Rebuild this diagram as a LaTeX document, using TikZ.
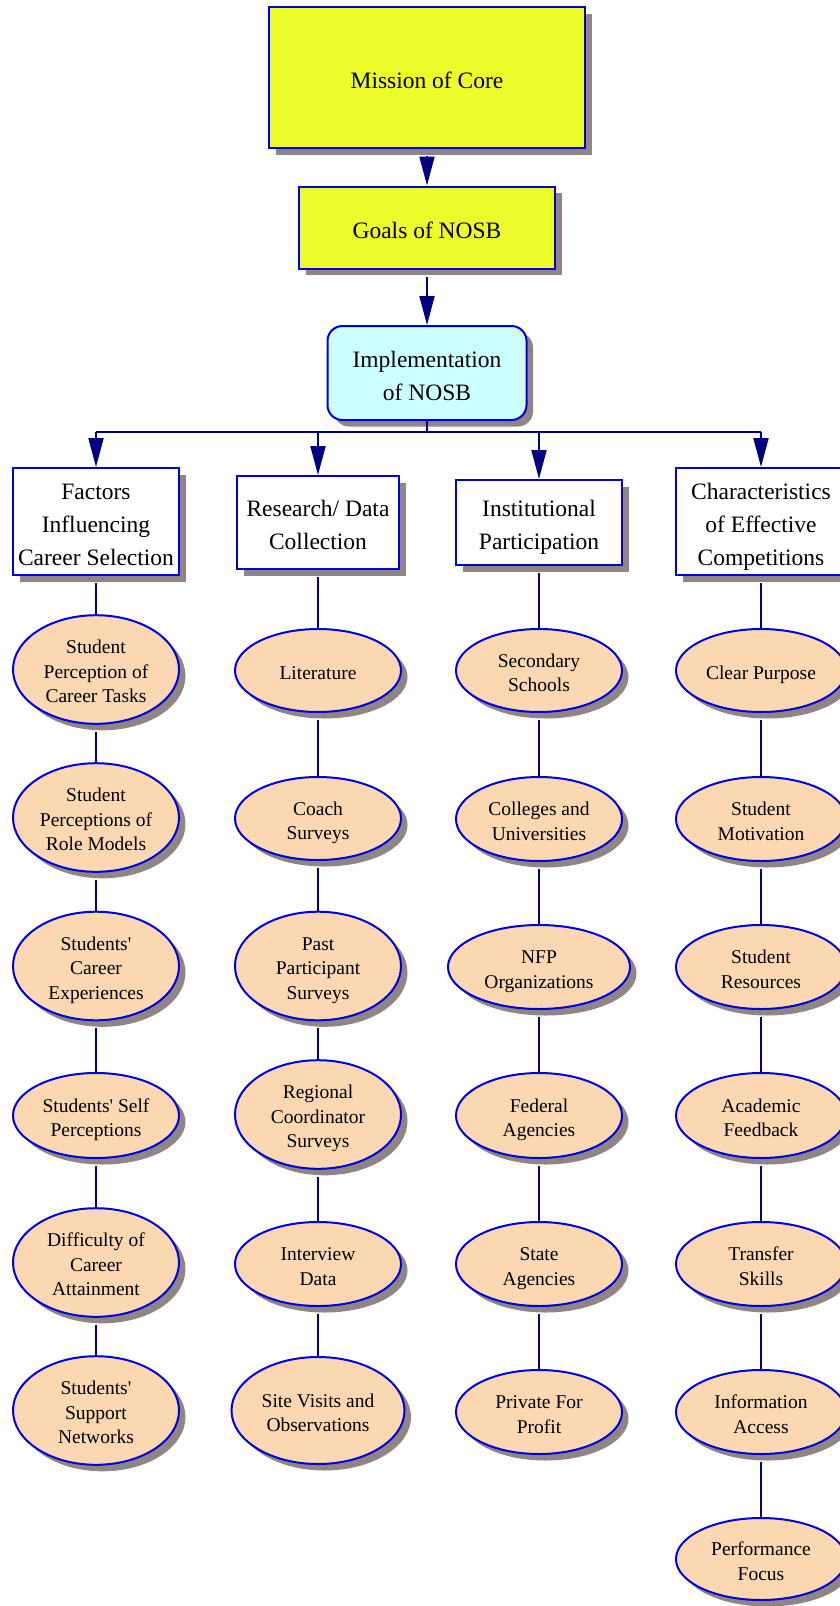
\documentclass[tikz,border=0pt]{standalone}
\usepackage{fontspec}
\setmainfont{Liberation Serif}
\usetikzlibrary{shapes.geometric,shadows,arrows.meta}
\definecolor{yel}{RGB}{236,252,42}
\definecolor{cyanf}{RGB}{204,255,255}
\definecolor{peach}{RGB}{252,216,178}
\definecolor{bord}{RGB}{0,0,220}
\definecolor{navyc}{RGB}{0,0,128}
\definecolor{shad}{RGB}{143,133,133}
% invisible struts that place the text a little below the node centre
\newcommand\sA{\rule{0pt}{1.17em}}
\newcommand\sZ{\rule[-0.255em]{0pt}{0.255em}}
\begin{document}
\begin{tikzpicture}[x=1pt,y=-1pt,
  shd/.style={drop shadow={shadow xshift=6.5pt,shadow yshift=-6.5pt,fill=shad,opacity=1}},
  bigfont/.style={font=\fontsize{23.5pt}{33pt}\selectfont},
  smallfont/.style={font=\fontsize{19.5pt}{24.5pt}\selectfont},
  topbox/.style={rectangle,draw=bord,line width=2pt,fill=yel,shd,inner sep=0pt,align=center,bigfont},
  implbox/.style={rectangle,rounded corners=15pt,draw=bord,line width=2pt,fill=cyanf,shd,inner sep=0pt,align=center,bigfont},
  catbox/.style={rectangle,draw=bord,line width=2pt,fill=white,shd,inner sep=0pt,align=center,bigfont},
  oval/.style={ellipse,draw=bord,line width=2pt,fill=peach,shd,inner sep=0pt,align=center,smallfont,minimum width=166pt},
  conn/.style={draw=navyc,line width=2pt},
  arr/.style={conn,-{Triangle[length=29pt,width=15pt]}}
]
\useasboundingbox (0,0) rectangle (840,1606);

% top chain
\node[topbox,minimum width=316pt,minimum height=141pt] (mission) at (427,77.5) {\sA Mission of Core\sZ};
\node[topbox,minimum width=256pt,minimum height=82pt] (goals) at (427,227.5) {\sA Goals of NOSB\sZ};
\node[implbox,minimum width=199pt,minimum height=94pt] (impl) at (427,373) {\sA Implementation\\of NOSB\sZ};

% category boxes
\node[catbox,minimum width=166pt,minimum height=107pt] (b1) at (96,521.5) {\sA Factors\\Influencing\\Career Selection\sZ};
\node[catbox,minimum width=162pt,minimum height=93pt] (b2) at (318,522.5) {\sA Research/ Data\\Collection\sZ};
\node[catbox,minimum width=166pt,minimum height=85pt] (b3) at (539,522.5) {\sA Institutional\\Participation\sZ};
\node[catbox,minimum width=170pt,minimum height=107pt] (b4) at (761,521.5) {\sA Characteristics\\of Effective\\Competitions\sZ};

% column 1
\node[oval,minimum height=107pt] (a1) at (96,669.5) {\sA Student\\Perception of\\Career Tasks\sZ};
\node[oval,minimum height=107pt] (a2) at (96,817.5) {\sA Student\\Perceptions of\\Role Models\sZ};
\node[oval,minimum height=106pt] (a3) at (96,966) {\sA Students\textquotesingle\\Career\\Experiences\sZ};
\node[oval,minimum height=85pt] (a4) at (96,1115.5) {\sA Students\textquotesingle{} Self\\Perceptions\sZ};
\node[oval,minimum height=107pt] (a5) at (96,1262.5) {\sA Difficulty of\\Career\\Attainment\sZ};
\node[oval,minimum height=107pt] (a6) at (96,1410.5) {\sA Students\textquotesingle\\Support\\Networks\sZ};

% column 2
\node[oval,minimum height=83pt] (r1) at (318,670.5) {\sA Literature\sZ};
\node[oval,minimum height=83pt] (r2) at (318,818.5) {\sA Coach\\Surveys\sZ};
\node[oval,minimum height=106pt] (r3) at (318,966) {\sA Past\\Participant\\Surveys\sZ};
\node[oval,minimum height=105pt] (r4) at (318,1114.5) {\sA Regional\\Coordinator\\Surveys\sZ};
\node[oval,minimum height=84pt] (r5) at (318,1264) {\sA Interview\\Data\sZ};
\node[oval,minimum height=107pt,minimum width=173pt] (r6) at (318,1410.5) {\sA Site Visits and\\Observations\sZ};

% column 3
\node[oval,minimum height=83pt] (i1) at (539,670.5) {\sA Secondary\\Schools\sZ};
\node[oval,minimum height=84pt] (i2) at (539,819) {\sA Colleges and\\Universities\sZ};
\node[oval,minimum height=84pt,minimum width=182pt] (i3) at (539,967) {\sA NFP\\Organizations\sZ};
\node[oval,minimum height=85pt] (i4) at (539,1115.5) {\sA Federal\\Agencies\sZ};
\node[oval,minimum height=84pt] (i5) at (539,1264) {\sA State\\Agencies\sZ};
\node[oval,minimum height=84pt] (i6) at (539,1412) {\sA Private For\\Profit\sZ};

% column 4
\node[oval,minimum height=83pt,minimum width=170pt] (c1) at (761,670.5) {\sA Clear Purpose\sZ};
\node[oval,minimum height=84pt,minimum width=170pt] (c2) at (761,819) {\sA Student\\Motivation\sZ};
\node[oval,minimum height=84pt,minimum width=170pt] (c3) at (761,967) {\sA Student\\Resources\sZ};
\node[oval,minimum height=85pt,minimum width=170pt] (c4) at (761,1115.5) {\sA Academic\\Feedback\sZ};
\node[oval,minimum height=84pt,minimum width=170pt] (c5) at (761,1264) {\sA Transfer\\Skills\sZ};
\node[oval,minimum height=84pt,minimum width=170pt] (c6) at (761,1412) {\sA Information\\Access\sZ};
\node[oval,minimum height=82pt,minimum width=170pt] (c7) at (761,1559) {\sA Performance\\Focus\sZ};

% top arrows
\draw[arr,shorten <=7pt] (mission) -- (goals);
\draw[arr,shorten <=7pt] (goals) -- (impl);

% bus
\coordinate (busL) at (96,432);
\coordinate (busR) at (761,432);
\draw[conn] (impl) -- (impl |- busL);
\draw[conn] (busL) -- (busR);
\draw[arr] (b1 |- busL) -- (b1);
\draw[arr] (b2 |- busL) -- (b2);
\draw[arr] (b3 |- busL) -- (b3);
\draw[arr] (b4 |- busL) -- (b4);

% column connectors
\foreach \p/\q in {b1/a1,a1/a2,a2/a3,a3/a4,a4/a5,a5/a6,
                   b2/r1,r1/r2,r2/r3,r3/r4,r4/r5,r5/r6,
                   b3/i1,i1/i2,i2/i3,i3/i4,i4/i5,i5/i6,
                   b4/c1,c1/c2,c2/c3,c3/c4,c4/c5,c5/c6,c6/c7}
  \draw[conn,shorten <=7pt] (\p) -- (\q);
\end{tikzpicture}
\end{document}
